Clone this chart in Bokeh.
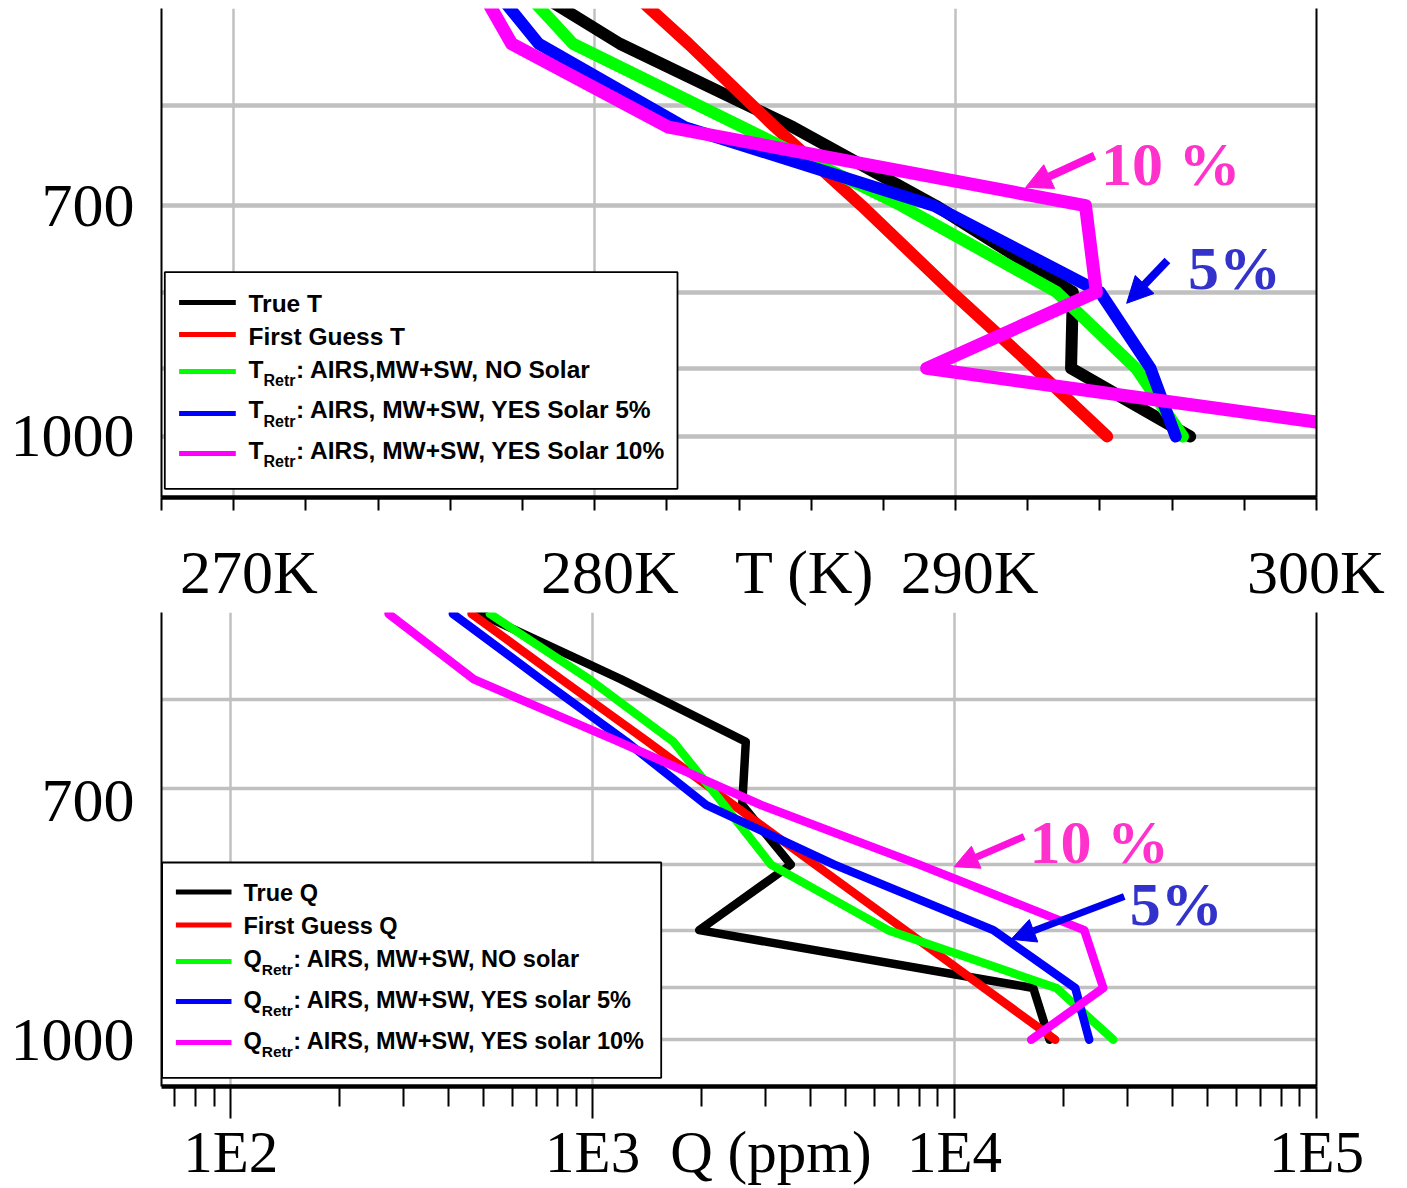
from bokeh.plotting import figure
from bokeh.models import (Range1d, FixedTicker, LinearAxis, LogAxis, BoxAnnotation,
                          Label, Arrow, NormalHead)
from bokeh.layouts import column
from bokeh.embed import file_html
from bokeh.resources import INLINE

# ---------------- data: temperature panel ----------------
t_levels = [1000, 900, 800, 700, 620, 545, 480]          # hPa
true_t = [296.5, 293.2, 293.25, 289.45, 285.5, 280.7, 277.0]
first_guess_t = [294.2, 292.2, 289.9, 287.4, 285.0, 282.6, 280.1]
retr_t_no_solar = [296.3, 295.0, 292.8, 288.5, 284.1, 279.4, 277.3]
retr_t_solar5 = [296.1, 295.4, 294.0, 289.4, 282.5, 278.45, 276.6]
retr_t_solar10 = [302.9, 289.2, 293.9, 293.6, 282.05, 277.7, 276.4]

t_grid_x = [270, 280, 290]
t_grid_p = [600, 700, 800, 900, 1000]
t_tick_marks = list(range(268, 301, 2))
t_label_pos = [270.42, 280.42, 285.82, 290.39, 299.98]
t_label_text = ["270K", "280K", "T (K)", "290K", "300K"]
t_ytick_pos = [700, 1000]
t_ytick_text = ["700", "1000"]

# ---------------- data: humidity panel ----------------
q_levels = [1000, 900, 800, 700, 620, 545, 480, 420]     # hPa
true_q = [18300, 16500, 1970, 3530, 2590, 2650, 1200, 490]
first_guess_q = [18970, 12070, 7300, 4120, 2450, 1420, 820, 463]
retr_q_no_solar = [27450, 19100, 6550, 3110, 2310, 1670, 980, 520]
retr_q_solar5 = [23550, 21550, 12800, 4650, 2060, 1240, 720, 411]
retr_q_solar10 = [16280, 25760, 22820, 7990, 2920, 1180, 470, 273]

q_grid_x = [100, 1000, 10000]
q_grid_p = [500, 600, 700, 800, 900, 1000]
q_decade_ticks = [100, 1000, 10000, 100000]
q_minor_ticks = [m * 10 ** e for e in range(1, 5) for m in range(2, 10) if m * 10 ** e > 64]
q_label_pos = [100, 1000, 3110, 10000, 100000]
q_label_text = ["1E2", "1E3", "Q (ppm)", "1E4", "1E5"]
q_ytick_pos = [615, 1000]
q_ytick_text = ["700", "1000"]

colors = ["#000000", "#ff0000", "#00ff00", "#0000ff", "#ff00ff"]

t_legend = [("True T", "", ""), ("First Guess T", "", ""),
            ("T", "Retr", ": AIRS,MW+SW, NO Solar"),
            ("T", "Retr", ": AIRS, MW+SW, YES Solar 5%"),
            ("T", "Retr", ": AIRS, MW+SW, YES Solar 10%")]
q_legend = [("True Q", "", ""), ("First Guess Q", "", ""),
            ("Q", "Retr", ": AIRS, MW+SW, NO solar"),
            ("Q", "Retr", ": AIRS, MW+SW, YES solar 5%"),
            ("Q", "Retr", ": AIRS, MW+SW, YES solar 10%")]

SERIF = "Liberation Serif"
SANS = "Liberation Sans"


def make_panel(height, x_range, y_range, x_type, mb_top, mb_bottom):
    return figure(width=1400, height=height, x_range=x_range, y_range=y_range,
                  x_axis_type=x_type, y_axis_type="log", output_backend="svg",
                  toolbar_location=None, min_border_left=161, min_border_right=84,
                  min_border_top=mb_top, min_border_bottom=mb_bottom,
                  outline_line_color=None, background_fill_color="white",
                  border_fill_color="white")


def style_left(p, pos, text):
    ay = p.yaxis[0]
    ay.ticker = FixedTicker(ticks=pos)
    ay.major_label_overrides = dict(zip(pos, text))
    ay.major_tick_out = 0
    ay.major_tick_in = 0
    ay.minor_tick_out = 0
    ay.minor_tick_in = 0
    ay.major_label_standoff = 27
    ay.major_label_text_font = SERIF
    ay.major_label_text_font_size = "62px"
    ay.major_label_text_color = "black"
    ay.axis_line_width = 2
    ay.axis_line_color = "black"
    p.add_layout(LogAxis(ticker=FixedTicker(ticks=[]), major_tick_out=0, major_tick_in=0,
                         minor_tick_out=0, minor_tick_in=0, major_label_standoff=0,
                         axis_line_width=2, axis_line_color="black"), "right")


def style_grid(p, gx, gp, wx, wp):
    p.xgrid.ticker = FixedTicker(ticks=gx)
    p.xgrid.grid_line_color = "#c0c0c0"
    p.xgrid.grid_line_width = wx
    p.ygrid.ticker = FixedTicker(ticks=gp)
    p.ygrid.grid_line_color = "#c0c0c0"
    p.ygrid.grid_line_width = wp


def label_axis(cls, pos, text, standoff, size):
    return cls(ticker=FixedTicker(ticks=pos), major_label_overrides=dict(zip(pos, text)),
               axis_line_color=None, major_tick_line_color=None,
               minor_tick_line_color=None, major_tick_out=0, major_tick_in=0,
               minor_tick_out=0, minor_tick_in=0,
               major_label_standoff=standoff, major_label_text_font=SERIF,
               major_label_text_font_size=size, major_label_text_color="black")


def add_legend(p, box, sample_x, text_x, rows_y, sample_y, sub_dy, fs, sub_fs,
               main_w, sub_w, entries):
    l, r, b, t = box
    p.add_layout(BoxAnnotation(left=l, right=r, bottom=b, top=t, left_units="screen",
                               right_units="screen", bottom_units="screen",
                               top_units="screen", fill_color="white", fill_alpha=1,
                               line_color="black", line_alpha=1, line_width=1.8))
    for (main, sub, rest), c, ty, sy in zip(entries, colors, rows_y, sample_y):
        p.add_layout(BoxAnnotation(left=sample_x[0], right=sample_x[1], bottom=sy - 2.5,
                                   top=sy + 2.5, left_units="screen", right_units="screen",
                                   bottom_units="screen", top_units="screen",
                                   fill_color=c, fill_alpha=1, line_color=None))
        common = dict(x_units="screen", y_units="screen", text_font=SANS,
                      text_font_style="bold", text_color="black",
                      text_baseline="middle", text_align="left")
        p.add_layout(Label(x=text_x, y=ty, text=main, text_font_size=f"{fs}px", **common))
        if sub:
            p.add_layout(Label(x=text_x + main_w, y=ty + sub_dy, text=sub,
                               text_font_size=f"{sub_fs}px", **common))
            p.add_layout(Label(x=text_x + main_w + sub_w, y=ty, text=rest,
                               text_font_size=f"{fs}px", **common))


def add_note(p, text, tx, ty, color_t, arrow, color_a, width, head):
    p.add_layout(Label(x=tx, y=ty, text=text, text_font=SERIF, text_font_style="bold",
                       text_font_size="62px", text_color=color_t, text_align="center",
                       text_baseline="middle"))
    xs, ys, xe, ye = arrow
    p.add_layout(Arrow(x_start=xs, y_start=ys, x_end=xe, y_end=ye, line_color=color_a,
                       line_width=width,
                       end=NormalHead(size=head, fill_color=color_a, line_color=color_a)))


# ================= top panel: temperature =================
p1 = make_panel(612, Range1d(268, 300), Range1d(1098.9, 516.1), "linear", 8, 115)
style_grid(p1, t_grid_x, t_grid_p, 2.5, 4.5)
style_left(p1, t_ytick_pos, t_ytick_text)

ax = p1.xaxis[0]
ax.ticker = FixedTicker(ticks=[], minor_ticks=t_tick_marks)
ax.axis_line_width = 4.5
ax.axis_line_color = "black"
ax.major_tick_out = 0
ax.major_tick_in = 0
ax.minor_tick_out = 13
ax.minor_tick_in = 0
ax.minor_tick_line_width = 2
ax.minor_tick_line_color = "black"
ax.major_label_standoff = 0

p1.add_layout(label_axis(LinearAxis, t_label_pos, t_label_text, 27, "62px"), "below")

t_series = [true_t, first_guess_t, retr_t_no_solar, retr_t_solar5, retr_t_solar10]
for s, c, w in zip(t_series, colors, [12, 12, 12, 12, 13]):
    p1.line(x=s, y=t_levels, line_color=c, line_width=w, line_join="round",
            line_cap="round")

add_legend(p1, (3.3, 516, 8.7, 225.3), (17.6, 74.3), 87,
           [194.5, 161.5, 128.5, 88, 47.5], [195, 163, 126, 84, 44], -11.5,
           24.5, 16, 15, 32.5, t_legend)

add_note(p1, "10 %", 295.96, 656, "#ff33cc", (293.85, 648, 291.94, 680.5), "#ff11dd", 8, 26)
add_note(p1, "5%", 297.73, 771, "#3333cc", (295.87, 762, 294.74, 814), "#0000ee", 8, 26)

# ================= bottom panel: humidity =================
p2 = make_panel(575, Range1d(64.4, 100000), Range1d(1100, 418.9), "log", 0, 99)
style_grid(p2, q_grid_x, q_grid_p, 2.5, 3.5)
style_left(p2, q_ytick_pos, q_ytick_text)

# inner axis: axis line + short ticks
bx = p2.xaxis[0]
bx.ticker = FixedTicker(ticks=[], minor_ticks=q_minor_ticks)
bx.axis_line_width = 4.5
bx.axis_line_color = "black"
bx.major_tick_out = 0
bx.major_tick_in = 0
bx.minor_tick_out = 20
bx.minor_tick_in = 0
bx.minor_tick_line_width = 2
bx.minor_tick_line_color = "black"
bx.major_label_standoff = 0

# middle axis: the longer decade ticks
p2.add_layout(LogAxis(ticker=FixedTicker(ticks=[], minor_ticks=q_decade_ticks),
                      axis_line_color=None, major_tick_out=0, major_tick_in=0,
                      minor_tick_in=20, minor_tick_out=12, minor_tick_line_width=2,
                      minor_tick_line_color="black", major_label_standoff=0), "below")

# outer axis: tick labels and title
p2.add_layout(label_axis(LogAxis, q_label_pos, q_label_text, 0, "59px"), "below")

q_series = [true_q, first_guess_q, retr_q_no_solar, retr_q_solar5, retr_q_solar10]
for s, c in zip(q_series, colors):
    p2.line(x=s, y=q_levels, line_color=c, line_width=8.5, line_join="round",
            line_cap="round")

add_legend(p2, (0.6, 499.7, 8.7, 224), (14.4, 70), 82,
           [193.5, 161, 128, 87, 46], [194.6, 161.4, 125, 85, 44], -11,
           23.5, 15.5, 18.3, 31.5, q_legend)

add_note(p2, "10 %", 25110, 669, "#ff33cc", (15570, 661, 9975, 703), "#ff11dd", 7, 24)
add_note(p2, "5%", 41000, 759, "#3333cc", (29430, 747, 14330, 815), "#0000ee", 7, 24)

layout = column(p1, p2, spacing=0)
open("out.html", "w").write(file_html(layout, INLINE))
